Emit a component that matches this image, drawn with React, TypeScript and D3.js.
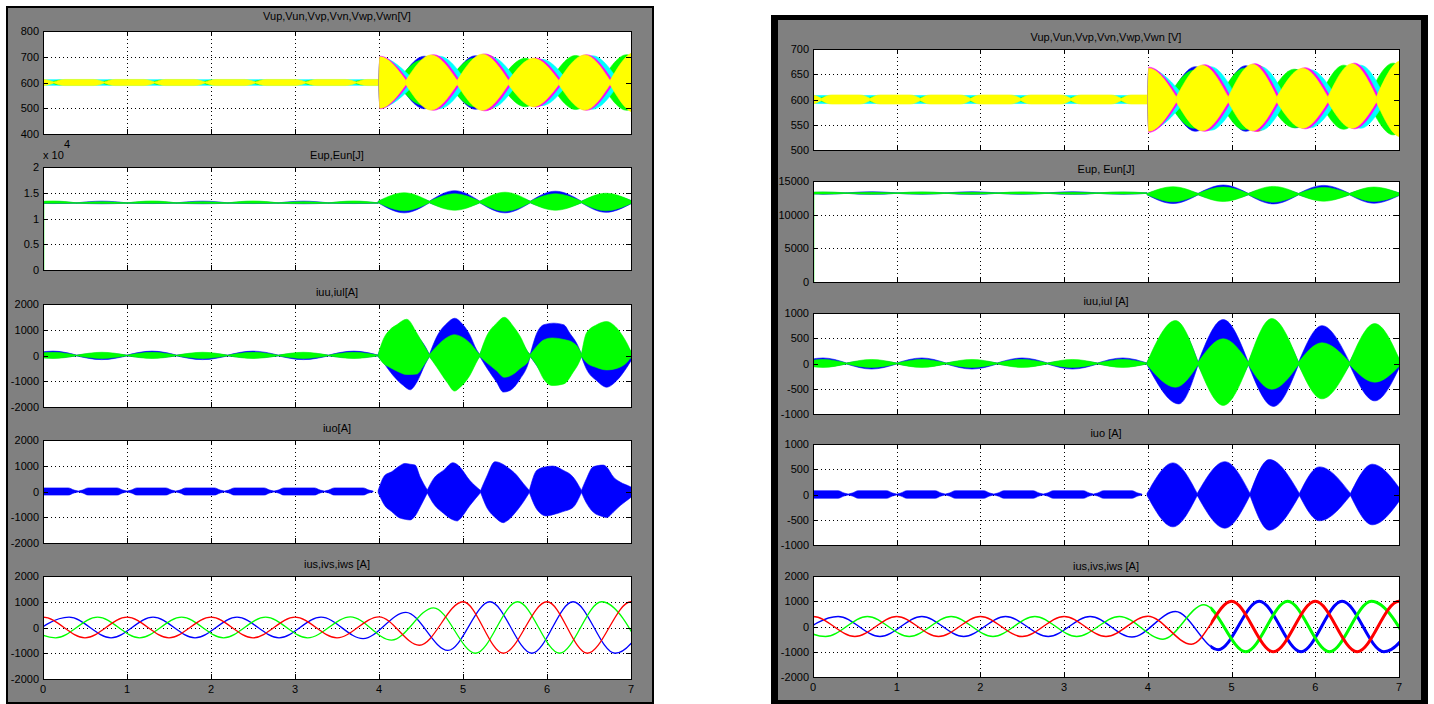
import React from "react";
import * as d3 from "d3";

type P3 = [number, number, number];
type Lens = [number, number, number, number, number];
type Pt = [number, number];

const BLUE = "#0000ff", GREEN = "#00ff00", RED = "#ff0000", CYAN = "#00ffff", MAGENTA = "#ff00ff", YELLOW = "#ffff00";

// ---------------- ticks & titles ----------------
const timeTicks = [0, 1, 2, 3, 4, 5, 6, 7];
const vTicksL = [400, 500, 600, 700, 800];
const eTicksL = [0, 0.5, 1, 1.5, 2];
const iTicksL = [-2000, -1000, 0, 1000, 2000];
const vTicksR = [500, 550, 600, 650, 700];
const eTicksR = [0, 5000, 10000, 15000];
const iTicksR = [-1000, -500, 0, 500, 1000];
const sTicksR = [-2000, -1000, 0, 1000, 2000];
const titlesL = ["Vup,Vun,Vvp,Vvn,Vwp,Vwn[V]", "Eup,Eun[J]", "iuu,iul[A]", "iuo[A]", "ius,ivs,iws [A]"];
const titlesR = ["Vup,Vun,Vvp,Vvn,Vwp,Vwn [V]", "Eup, Eun[J]", "iuu,iul [A]", "iuo [A]", "ius,ivs,iws [A]"];

// ---------------- LEFT: capacitor voltages ----------------
const vPinchPreL = [-0.47, 0.13, 0.73, 1.33, 1.93, 2.53, 3.13, 3.73, 4.33];
const vGreenPreL: Lens[] = [[0.1, 0.28, 0.2, 609, 591], [0.7, 0.88, 0.8, 609, 591], [1.3, 1.48, 1.4, 609, 591], [1.9, 2.08, 2.0, 609, 591], [2.5, 2.68, 2.6, 609, 591], [3.1, 3.28, 3.2, 609, 591], [3.7, 3.88, 3.8, 609, 591]];
const vBlueL: Lens[] = [[4.0, 4.24, 4.01, 695, 505], [4.24, 4.85, 4.54, 702, 498], [4.85, 5.46, 5.15, 704, 496], [5.46, 6.06, 5.76, 690, 510], [6.06, 6.67, 6.36, 692, 508], [6.67, 7.28, 6.97, 702, 498]];
const vGreenL: Lens[] = [[4.0, 4.22, 4.01, 680, 520], [4.22, 4.83, 4.52, 688, 512], [4.83, 5.44, 5.13, 694, 506], [5.44, 6.04, 5.74, 694, 506], [6.04, 6.65, 6.34, 705, 495], [6.65, 7.26, 6.95, 708, 492]];
const vRedL: Lens[] = [[4.0, 4.38, 4.01, 690, 510], [4.38, 4.99, 4.68, 698, 502], [4.99, 5.6, 5.29, 706, 494], [5.6, 6.2, 5.9, 690, 510], [6.2, 6.81, 6.5, 694, 506], [6.81, 7.42, 7.11, 702, 498]];
const vCyanL: Lens[] = [[4.0, 4.42, 4.01, 698, 502], [4.42, 5.03, 4.72, 702, 498], [5.03, 5.64, 5.33, 700, 500], [5.64, 6.24, 5.94, 690, 510], [6.24, 6.85, 6.54, 704, 496], [6.85, 7.45, 7.15, 708, 492]];
const vMagentaL: Lens[] = [[4.0, 4.35, 4.01, 702, 498], [4.35, 4.96, 4.65, 708, 492], [4.96, 5.57, 5.26, 711, 490], [5.57, 6.17, 5.87, 695, 505], [6.17, 6.78, 6.47, 708, 492], [6.78, 7.38, 7.08, 719, 481]];
const vYellowL: Lens[] = [[4.0, 4.32, 4.01, 700, 500], [4.32, 4.93, 4.62, 707, 493], [4.93, 5.54, 5.23, 710, 492], [5.54, 6.14, 5.84, 694, 506], [6.14, 6.75, 6.45, 707, 493], [6.75, 7.36, 7.05, 718, 482]];

// ---------------- LEFT: arm energies (x10^4 J) ----------------
const eStartL: Pt[] = [[0, 0], [0, 1.31]];
const eGreenPreL: Lens[] = [[-0.2, 0.4, 0.12, 1.34, 1.295], [0.4, 1.0, 0.7, 1.325, 1.292], [1.0, 1.59, 1.3, 1.34, 1.295], [1.59, 2.2, 1.9, 1.325, 1.292], [2.2, 2.8, 2.5, 1.34, 1.295], [2.8, 3.4, 3.1, 1.325, 1.292], [3.4, 3.99, 3.7, 1.34, 1.295]];
const eBluePreL: Lens[] = [[-0.2, 0.4, 0.12, 1.33, 1.29], [0.4, 1.0, 0.7, 1.337, 1.286], [1.0, 1.59, 1.3, 1.33, 1.29], [1.59, 2.2, 1.9, 1.337, 1.286], [2.2, 2.8, 2.5, 1.33, 1.29], [2.8, 3.4, 3.1, 1.337, 1.286], [3.4, 3.99, 3.7, 1.33, 1.29]];
const eGreenL: Lens[] = [[3.99, 4.6, 4.3, 1.5, 1.15], [4.6, 5.2, 4.9, 1.48, 1.16], [5.2, 5.8, 5.5, 1.51, 1.14], [5.8, 6.41, 6.1, 1.48, 1.16], [6.41, 7.02, 6.7, 1.49, 1.15]];
const eBlueL: Lens[] = [[3.99, 4.6, 4.3, 1.46, 1.11], [4.6, 5.2, 4.9, 1.54, 1.18], [5.2, 5.8, 5.5, 1.47, 1.11], [5.8, 6.41, 6.1, 1.53, 1.18], [6.41, 7.02, 6.7, 1.47, 1.12]];

// ---------------- LEFT: arm currents iuu, iul ----------------
const iuuPreL: Lens[] = [[-0.2, 0.4, 0.12, 170, -90], [0.4, 1.0, 0.7, 90, -160], [1.0, 1.59, 1.3, 170, -90], [1.59, 2.2, 1.9, 90, -160], [2.2, 2.8, 2.5, 170, -90], [2.8, 3.4, 3.1, 90, -160], [3.4, 3.99, 3.7, 170, -90]];
const iulPreL: Lens[] = [[-0.2, 0.4, 0.12, 125, -115], [0.4, 1.0, 0.7, 125, -115], [1.0, 1.59, 1.3, 125, -115], [1.59, 2.2, 1.9, 125, -115], [2.2, 2.8, 2.5, 125, -115], [2.8, 3.4, 3.1, 125, -115], [3.4, 3.99, 3.7, 125, -115]];
const iuuL: P3[][] = [
  [[3.99, 40, -40], [4.05, 500, -274], [4.17, 900, -783], [4.29, 1150, -1166], [4.37, 1200, -1331], [4.45, 800, -1038], [4.55, 350, -338], [4.6, 40, -40]],
  [[4.6, 40, -40], [4.69, 745, -400], [4.81, 1255, -1000], [4.9, 1446, -1300], [5.0, 1191, -1100], [5.08, 809, -700], [5.16, 236, -200], [5.2, 40, -40]],
  [[5.2, 40, -40], [5.28, 600, -465], [5.4, 1100, -1038], [5.48, 1300, -1420], [5.56, 1100, -1357], [5.68, 650, -911], [5.78, 100, -274], [5.8, 40, -40]],
  [[5.8, 40, -40], [5.88, 873, -400], [5.96, 1191, -800], [6.08, 1255, -1000], [6.2, 1191, -1000], [6.27, 873, -600], [6.37, 363, -250], [6.41, 40, -40]],
  [[6.41, 40, -40], [6.47, 600, -529], [6.59, 1000, -975], [6.71, 1200, -1229], [6.83, 900, -975], [6.95, 400, -465], [7.0, 150, -210], [7.05, 40, -40]],
];
const iulL: P3[][] = [
  [[3.99, 40, -40], [4.05, 620, -300], [4.13, 1000, -465], [4.21, 1190, -600], [4.33, 1408, -740], [4.45, 873, -720], [4.53, 427, -400], [4.6, 40, -40]],
  [[4.6, 40, -40], [4.69, 363, -465], [4.81, 700, -1038], [4.9, 809, -1382], [4.96, 760, -1250], [5.08, 490, -783], [5.18, 108, -146], [5.2, 40, -40]],
  [[5.2, 40, -40], [5.28, 745, -274], [5.4, 1255, -592], [5.49, 1484, -847], [5.6, 1127, -720], [5.68, 745, -500], [5.78, 108, -200], [5.8, 40, -40]],
  [[5.8, 40, -40], [5.88, 363, -401], [5.96, 600, -911], [6.06, 680, -1166], [6.2, 620, -1102], [6.31, 500, -656], [6.39, 200, -210], [6.41, 40, -40]],
  [[6.41, 40, -40], [6.47, 873, -274], [6.59, 1191, -465], [6.71, 1318, -560], [6.83, 1064, -500], [6.95, 490, -274], [7.0, 172, -83], [7.05, 40, -40]],
];

// ---------------- LEFT: circulating current iuo ----------------
const iuoPinchPreL = [-0.15, 0.42, 1.0, 1.58, 2.16, 2.75, 3.35, 3.93];
const iuoPreLevelsL = [140, 55, 15];
const iuoL: P3[][] = [
  [[3.99, 40, -40], [4.07, 630, -553], [4.15, 763, -780], [4.23, 960, -1000], [4.31, 1090, -1080], [4.37, 1060, -1105], [4.43, 1026, -950], [4.49, 566, -600], [4.575, 60, -60]],
  [[4.575, 60, -60], [4.65, 500, -480], [4.77, 829, -850], [4.88, 1118, -1100], [4.93, 1050, -1145], [4.96, 960, -1080], [5.08, 434, -550], [5.21, 40, -40]],
  [[5.21, 40, -40], [5.28, 566, -600], [5.38, 1158, -1000], [5.48, 1050, -1210], [5.52, 960, -1150], [5.64, 632, -750], [5.72, 303, -400], [5.79, 40, -40]],
  [[5.79, 40, -40], [5.88, 829, -700], [5.99, 960, -947], [6.07, 987, -900], [6.19, 829, -780], [6.31, 566, -618], [6.41, 40, -40]],
  [[6.41, 40, -40], [6.47, 500, -450], [6.55, 960, -800], [6.67, 1026, -980], [6.71, 950, -1013], [6.79, 566, -800], [6.87, 368, -550], [7.0, 171, -224], [7.06, 40, -40]],
];

// ---------------- LEFT: grid currents (extrema) ----------------
const iusL: Pt[] = [[-0.19, -400], [0.31, 400], [0.81, -400], [1.31, 400], [1.81, -400], [2.31, 400], [2.81, -400], [3.31, 400], [3.81, -430], [4.32, 590], [4.82, -890], [5.32, 1000], [5.82, -1000], [6.31, 1000], [6.81, -1000], [7.31, 1000]];
const ivsL: Pt[] = [[-0.35, 400], [0.15, -400], [0.65, 400], [1.15, -400], [1.65, 400], [2.15, -400], [2.65, 400], [3.15, -400], [3.66, 415], [4.15, -490], [4.65, 765], [5.15, -1000], [5.65, 1000], [6.15, -1000], [6.65, 1000], [7.15, -1000]];
const iwsL: Pt[] = [[-0.5, -400], [0, 400], [0.5, -400], [1.0, 400], [1.5, -400], [2.0, 400], [2.5, -400], [3.0, 400], [3.5, -400], [4.0, 415], [4.48, -690], [5.0, 1000], [5.48, -1000], [6.0, 1000], [6.48, -1000], [7.0, 1000], [7.48, -1000]];

// ---------------- RIGHT: capacitor voltages ----------------
const vPinchPreR = [-0.5, 0.1, 0.68, 1.28, 1.88, 2.48, 3.08, 3.68, 4.28];
const vGreenPreR: Lens[] = [[0.07, 0.25, 0.17, 606, 594], [0.65, 0.83, 0.75, 606, 594], [1.25, 1.43, 1.35, 606, 594], [1.85, 2.03, 1.95, 606, 594], [2.45, 2.63, 2.55, 606, 594], [3.05, 3.23, 3.15, 606, 594], [3.65, 3.83, 3.75, 606, 594]];
const vBlueR: Lens[] = [[4.0, 4.26, 4.01, 660, 540], [4.26, 4.88, 4.57, 665, 537], [4.88, 5.46, 5.17, 667, 537], [5.46, 6.07, 5.77, 659, 544], [6.07, 6.65, 6.36, 664, 544], [6.65, 7.25, 6.95, 670, 532]];
const vGreenR: Lens[] = [[4.0, 4.24, 4.01, 652, 548], [4.24, 4.86, 4.55, 658, 543], [4.86, 5.44, 5.15, 662, 540], [5.44, 6.05, 5.75, 660, 544], [6.05, 6.63, 6.34, 668, 541], [6.63, 7.22, 6.93, 672, 530]];
const vRedR: Lens[] = [[4.0, 4.4, 4.01, 658, 541], [4.4, 5.02, 4.71, 663, 539], [5.02, 5.6, 5.31, 668, 537], [5.6, 6.21, 5.9, 659, 545], [6.21, 6.79, 6.5, 663, 545], [6.79, 7.38, 7.08, 670, 532]];
const vCyanR: Lens[] = [[4.0, 4.44, 4.01, 661, 539], [4.44, 5.06, 4.75, 665, 539], [5.06, 5.64, 5.35, 665, 539], [5.64, 6.25, 5.94, 659, 544], [6.25, 6.83, 6.54, 668, 543], [6.83, 7.42, 7.12, 672, 532]];
const vMagentaR: Lens[] = [[4.0, 4.37, 4.01, 664, 535], [4.37, 4.99, 4.68, 669, 537], [4.99, 5.57, 5.28, 671, 537], [5.57, 6.18, 5.88, 663, 542], [6.18, 6.76, 6.47, 672, 542], [6.76, 7.35, 7.05, 677, 525]];
const vYellowR: Lens[] = [[4.0, 4.34, 4.01, 662, 537], [4.34, 4.96, 4.65, 668, 538], [4.96, 5.54, 5.25, 670, 538], [5.54, 6.15, 5.85, 662, 543], [6.15, 6.73, 6.44, 671, 543], [6.73, 7.3, 7.02, 676, 526]];

// ---------------- RIGHT: arm energies (J) ----------------
const eStartR: Pt[] = [[0, 0], [0, 13200]];
const eGreenPreR: Lens[] = [[-0.2, 0.4, 0.12, 13380, 13060], [0.4, 1.0, 0.7, 13320, 13050], [1.0, 1.59, 1.3, 13380, 13060], [1.59, 2.2, 1.9, 13320, 13050], [2.2, 2.8, 2.5, 13380, 13060], [2.8, 3.4, 3.1, 13320, 13050], [3.4, 3.99, 3.7, 13380, 13060]];
const eBluePreR: Lens[] = [[-0.2, 0.4, 0.12, 13330, 13030], [0.4, 1.0, 0.7, 13400, 13020], [1.0, 1.59, 1.3, 13330, 13030], [1.59, 2.2, 1.9, 13400, 13020], [2.2, 2.8, 2.5, 13330, 13030], [2.8, 3.4, 3.1, 13400, 13020], [3.4, 3.99, 3.7, 13330, 13030]];
const eGreenR: Lens[] = [[3.99, 4.6, 4.3, 14150, 11900], [4.6, 5.2, 4.9, 14100, 11950], [5.2, 5.8, 5.5, 14200, 11850], [5.8, 6.41, 6.1, 14050, 12000], [6.41, 7.02, 6.7, 14100, 11950]];
const eBlueR: Lens[] = [[3.99, 4.6, 4.3, 13900, 11650], [4.6, 5.2, 4.9, 14400, 12100], [5.2, 5.8, 5.5, 14000, 11600], [5.8, 6.41, 6.1, 14350, 12150], [6.41, 7.02, 6.7, 13950, 11700]];

// ---------------- RIGHT: arm currents ----------------
const iuuPreR: Lens[] = [[-0.2, 0.4, 0.12, 110, -60], [0.4, 1.0, 0.7, 60, -110], [1.0, 1.59, 1.3, 110, -60], [1.59, 2.2, 1.9, 60, -110], [2.2, 2.8, 2.5, 110, -60], [2.8, 3.4, 3.1, 60, -110], [3.4, 3.99, 3.7, 110, -60]];
const iulPreR: Lens[] = [[-0.2, 0.4, 0.12, 80, -78], [0.4, 1.0, 0.7, 80, -78], [1.0, 1.59, 1.3, 80, -78], [1.59, 2.2, 1.9, 80, -78], [2.2, 2.8, 2.5, 80, -78], [2.8, 3.4, 3.1, 80, -78], [3.4, 3.99, 3.7, 80, -78]];
const iuuR: Lens[] = [[3.99, 4.6, 4.37, 720, -800], [4.6, 5.2, 4.9, 870, -720], [5.2, 5.8, 5.5, 780, -850], [5.8, 6.41, 6.08, 750, -600], [6.41, 7.02, 6.71, 660, -740]];
const iulR: Lens[] = [[3.99, 4.6, 4.33, 850, -470], [4.6, 5.2, 4.9, 490, -830], [5.2, 5.8, 5.48, 890, -510], [5.8, 6.41, 6.08, 410, -700], [6.41, 7.02, 6.71, 790, -370]];

// ---------------- RIGHT: circulating current ----------------
const iuoPinchPreR = [-0.15, 0.42, 1.0, 1.58, 2.16, 2.75, 3.35, 3.93];
const iuoPreLevelsR = [75, 30, 8];
const iuoR: Lens[] = [[3.99, 4.59, 4.3, 626, -640], [4.59, 5.22, 4.92, 650, -667], [5.22, 5.81, 5.45, 693, -707], [5.81, 6.42, 6.05, 547, -520], [6.42, 7.05, 6.68, 600, -600]];

// ---------------- RIGHT: grid currents (extrema) ----------------
const iusR: Pt[] = [[-0.19, -400], [0.3, 400], [0.8, -400], [1.3, 400], [1.8, -400], [2.3, 400], [2.81, -400], [3.31, 400], [3.81, -420], [4.33, 590], [4.84, -920], [5.33, 1000], [5.83, -1000], [6.32, 1000], [6.82, -1000], [7.32, 1000]];
const ivsR: Pt[] = [[-0.35, 400], [0.15, -400], [0.65, 400], [1.15, -400], [1.65, 400], [2.15, -400], [2.65, 400], [3.15, -400], [3.66, 400], [4.18, -500], [4.67, 860], [5.17, -1000], [5.67, 1000], [6.17, -1000], [6.67, 1000], [7.17, -1000]];
const iwsR: Pt[] = [[-0.5, -400], [0, 400], [0.5, -400], [1.0, 400], [1.5, -400], [2.0, 400], [2.5, -400], [3.0, 400], [3.5, -400], [4.0, 410], [4.52, -700], [5.0, 1000], [5.5, -1000], [6.0, 1000], [6.5, -1000], [7.0, 1000], [7.5, -1000]];

// ---------------- shape builders ----------------
function lensSet(spec: Lens[], base: number, w: number): P3[][] {
  return spec.map(([t0, t1, tp, hi, lo]) => [[t0, base + w, base - w], [tp, hi, lo], [t1, base + w, base - w]] as P3[]);
}
function plateau(pinches: number[], hi: number, lo: number, thinHi: number, thinLo: number, ramp: number): P3[][] {
  const out: P3[][] = [];
  for (let i = 0; i < pinches.length - 1; i++) {
    const a = pinches[i], b = pinches[i + 1];
    out.push([[a, thinHi, thinLo], [a + ramp, hi, lo], [b - ramp, hi, lo], [b, thinHi, thinLo]]);
  }
  return out;
}
function stepLobes(pinches: number[], levels: number[]): P3[][] {
  const [hi, mid, thin] = levels;
  const out: P3[][] = [];
  for (let i = 0; i < pinches.length - 1; i++) {
    const a = pinches[i], b = pinches[i + 1];
    out.push([[a, thin, -thin], [a + 0.05, mid, -mid], [a + 0.12, hi, -hi], [b - 0.12, hi, -hi], [b - 0.05, mid, -mid], [b, thin, -thin]]);
  }
  return out;
}

type Series =
  | { type: "band"; color: string; lobes: P3[][] }
  | { type: "line"; color: string; width: number; pts: Pt[]; linear?: boolean; from?: number };
type PanelDef = { title: string; yDomain: [number, number]; yTicks: number[]; series: Series[] };
type Fig = {
  frame: [number, number, number, number]; inset: [number, number, number, number];
  x0: number; x1: number; tops: number[]; h: number; titleY: number[];
};

const band = (color: string, lobes: P3[][]): Series => ({ type: "band", color, lobes });
const ln = (color: string, width: number, pts: Pt[], extra: Partial<{ linear: boolean; from: number }> = {}): Series => ({ type: "line", color, width, pts, ...extra });

const figL: Fig = { frame: [6, 6, 648, 698], inset: [2, 2, 2, 2], x0: 43, x1: 631, tops: [31, 167, 304, 440, 576], h: 103, titleY: [16, 155, 292, 428, 564] };
const figR: Fig = { frame: [771, 15, 657, 689], inset: [7, 5, 7, 4], x0: 813, x1: 1399, tops: [49, 181, 313, 444, 576], h: 101, titleY: [37, 169, 301, 433, 566] };

const panelsL: PanelDef[] = [
  {
    title: titlesL[0], yDomain: [400, 800], yTicks: vTicksL, series: [
      band(CYAN, [[[0, 611, 589], [4.05, 611, 589]]]),
      band(GREEN, lensSet(vGreenPreL, 600, 1)),
      band(YELLOW, plateau(vPinchPreL, 612, 588, 602, 598, 0.13)),
      band(BLUE, lensSet(vBlueL, 600, 8)),
      band(GREEN, lensSet(vGreenL, 600, 8)),
      band(RED, lensSet(vRedL, 600, 8)),
      band(CYAN, lensSet(vCyanL, 600, 8)),
      band(MAGENTA, lensSet(vMagentaL, 600, 8)),
      band(YELLOW, lensSet(vYellowL, 600, 8)),
    ],
  },
  {
    title: titlesL[1], yDomain: [0, 2], yTicks: eTicksL, series: [
      band(BLUE, lensSet(eBluePreL, 1.3, 0.004)),
      band(GREEN, lensSet(eGreenPreL, 1.3, 0.004)),
      band(BLUE, lensSet(eBlueL, 1.32, 0.015)),
      band(GREEN, lensSet(eGreenL, 1.32, 0.015)),
      ln(GREEN, 2.5, eStartL, { linear: true }),
    ],
  },
  {
    title: titlesL[2], yDomain: [-2000, 2000], yTicks: iTicksL, series: [
      band(BLUE, lensSet(iuuPreL, 0, 15)),
      band(GREEN, lensSet(iulPreL, 0, 12)),
      band(BLUE, iuuL),
      band(GREEN, iulL),
    ],
  },
  {
    title: titlesL[3], yDomain: [-2000, 2000], yTicks: iTicksL, series: [
      band(BLUE, stepLobes(iuoPinchPreL, iuoPreLevelsL)),
      band(BLUE, iuoL),
    ],
  },
  {
    title: titlesL[4], yDomain: [-2000, 2000], yTicks: iTicksL, series: [
      ln(BLUE, 1.3, iusL), ln(GREEN, 1.3, ivsL), ln(RED, 1.3, iwsL),
    ],
  },
];

const panelsR: PanelDef[] = [
  {
    title: titlesR[0], yDomain: [500, 700], yTicks: vTicksR, series: [
      band(CYAN, [[[0, 608, 592], [4.05, 608, 592]]]),
      band(GREEN, lensSet(vGreenPreR, 600, 1)),
      band(YELLOW, plateau(vPinchPreR, 609, 591, 602, 598, 0.12)),
      band(BLUE, lensSet(vBlueR, 600, 5)),
      band(GREEN, lensSet(vGreenR, 600, 5)),
      band(RED, lensSet(vRedR, 600, 5)),
      band(CYAN, lensSet(vCyanR, 600, 5)),
      band(MAGENTA, lensSet(vMagentaR, 600, 5)),
      band(YELLOW, lensSet(vYellowR, 600, 5)),
    ],
  },
  {
    title: titlesR[1], yDomain: [0, 15000], yTicks: eTicksR, series: [
      band(BLUE, lensSet(eBluePreR, 13200, 40)),
      band(GREEN, lensSet(eGreenPreR, 13200, 40)),
      band(BLUE, lensSet(eBlueR, 13050, 100)),
      band(GREEN, lensSet(eGreenR, 13050, 100)),
      ln(GREEN, 2.5, eStartR, { linear: true }),
    ],
  },
  {
    title: titlesR[2], yDomain: [-1000, 1000], yTicks: iTicksR, series: [
      band(BLUE, lensSet(iuuPreR, 0, 10)),
      band(GREEN, lensSet(iulPreR, 0, 8)),
      band(BLUE, lensSet(iuuR, 0, 25)),
      band(GREEN, lensSet(iulR, 0, 25)),
    ],
  },
  {
    title: titlesR[3], yDomain: [-1000, 1000], yTicks: iTicksR, series: [
      band(BLUE, stepLobes(iuoPinchPreR, iuoPreLevelsR)),
      band(BLUE, lensSet(iuoR, 0, 20)),
    ],
  },
  {
    title: titlesR[4], yDomain: [-2000, 2000], yTicks: sTicksR, series: [
      ln(BLUE, 1.5, iusR), ln(GREEN, 1.5, ivsR), ln(RED, 1.5, iwsR),
      ln(BLUE, 3, iusR, { from: 4.75 }), ln(GREEN, 3, ivsR, { from: 4.75 }), ln(RED, 3, iwsR, { from: 4.75 }),
    ],
  },
];

const FONT = "'Liberation Sans', Arial, Helvetica, sans-serif";

function Panel({ fig, def, i, uid }: { fig: Fig; def: PanelDef; i: number; uid: string }) {
  const top = fig.tops[i];
  const h = fig.h;
  const bottom = top + h;
  const x = d3.scaleLinear().domain([0, 7]).range([fig.x0, fig.x1]);
  const y = d3.scaleLinear().domain(def.yDomain).range([bottom, top]);
  const area = d3.area<P3>().x((d) => x(d[0])).y1((d) => y(d[1])).y0((d) => y(d[2])).curve(d3.curveMonotoneX);
  const lineM = d3.line<Pt>().x((d) => x(d[0])).y((d) => y(d[1])).curve(d3.curveMonotoneX);
  const lineL = d3.line<Pt>().x((d) => x(d[0])).y((d) => y(d[1]));
  const clip = `clip-${uid}-${i}`;
  const w = fig.x1 - fig.x0;
  const tickLen = 5;
  const innerY = def.yTicks.filter((v) => v !== def.yDomain[0] && v !== def.yDomain[1]);
  const innerX = timeTicks.filter((v) => v !== 0 && v !== 7);
  return (
    <g>
      <defs>
        <clipPath id={clip}><rect x={fig.x0} y={top} width={w} height={h} /></clipPath>
        <clipPath id={clip + "-t"}><rect x={x(4.75)} y={top} width={fig.x1 - x(4.75)} height={h} /></clipPath>
      </defs>
      <rect x={fig.x0} y={top} width={w} height={h} fill="#ffffff" />
      <g stroke="#000" strokeWidth={1} strokeDasharray="1 3" shapeRendering="crispEdges">
        {innerY.map((v) => <line key={"gy" + v} x1={fig.x0} x2={fig.x1} y1={Math.round(y(v)) + 0.5} y2={Math.round(y(v)) + 0.5} />)}
        {innerX.map((v) => <line key={"gx" + v} x1={Math.round(x(v)) + 0.5} x2={Math.round(x(v)) + 0.5} y1={top} y2={bottom} />)}
      </g>
      <g clipPath={`url(#${clip})`}>
        {def.series.map((s, k) => {
          if (s.type === "band") {
            return (
              <g key={k} fill={s.color} stroke={s.color} strokeWidth={0.6}>
                {s.lobes.map((l, j) => <path key={j} d={area(l) || ""} />)}
              </g>
            );
          }
          const d = (s.linear ? lineL : lineM)(s.pts) || "";
          const p = <path d={d} fill="none" stroke={s.color} strokeWidth={s.width} strokeLinejoin="round" />;
          return s.from !== undefined ? <g key={k} clipPath={`url(#${clip}-t)`}>{p}</g> : <g key={k}>{p}</g>;
        })}
      </g>
      <g stroke="#000" strokeWidth={1} shapeRendering="crispEdges">
        {innerX.map((v) => (
          <g key={"tx" + v}>
            <line x1={Math.round(x(v)) + 0.5} x2={Math.round(x(v)) + 0.5} y1={top} y2={top + tickLen} />
            <line x1={Math.round(x(v)) + 0.5} x2={Math.round(x(v)) + 0.5} y1={bottom} y2={bottom - tickLen} />
          </g>
        ))}
        {innerY.map((v) => (
          <g key={"ty" + v}>
            <line x1={fig.x0} x2={fig.x0 + tickLen} y1={Math.round(y(v)) + 0.5} y2={Math.round(y(v)) + 0.5} />
            <line x1={fig.x1} x2={fig.x1 - tickLen} y1={Math.round(y(v)) + 0.5} y2={Math.round(y(v)) + 0.5} />
          </g>
        ))}
        <rect x={fig.x0 + 0.5} y={top + 0.5} width={w} height={h} fill="none" />
      </g>
      <g fontFamily={FONT} fontSize={11} fill="#000">
        {def.yTicks.map((v) => (
          <text key={"ly" + v} x={fig.x0 - 4} y={y(v)} textAnchor="end" dominantBaseline="central">{String(v)}</text>
        ))}
        {i === 4 && timeTicks.map((v) => (
          <text key={"lx" + v} x={x(v)} y={bottom + 14} textAnchor="middle">{String(v)}</text>
        ))}
        <text x={(fig.x0 + fig.x1) / 2} y={fig.titleY[i]} textAnchor="middle" dominantBaseline="central">{def.title}</text>
      </g>
    </g>
  );
}

function Figure({ fig, panels, uid, children }: { fig: Fig; panels: PanelDef[]; uid: string; children?: React.ReactNode }) {
  const [fx, fy, fw, fh] = fig.frame;
  const [il, it, ir, ib] = fig.inset;
  return (
    <g>
      <rect x={fx} y={fy} width={fw} height={fh} fill="#000" />
      <rect x={fx + il} y={fy + it} width={fw - il - ir} height={fh - it - ib} fill="#808080" />
      {panels.map((p, i) => <Panel key={i} fig={fig} def={p} i={i} uid={uid} />)}
      {children}
    </g>
  );
}

export default function App() {
  return (
    <svg width={1434} height={704} viewBox="0 0 1434 704" style={{ position: "absolute", left: 0, top: 0, background: "#fff" }}>
      <rect x={0} y={0} width={1434} height={704} fill="#fff" />
      <Figure fig={figL} panels={panelsL} uid="L">
        <g fontFamily={FONT} fill="#000">
          <text x={43} y={159} fontSize={11}>x 10</text>
          <text x={64} y={148} fontSize={11}>4</text>
        </g>
      </Figure>
      <Figure fig={figR} panels={panelsR} uid="R" />
    </svg>
  );
}
